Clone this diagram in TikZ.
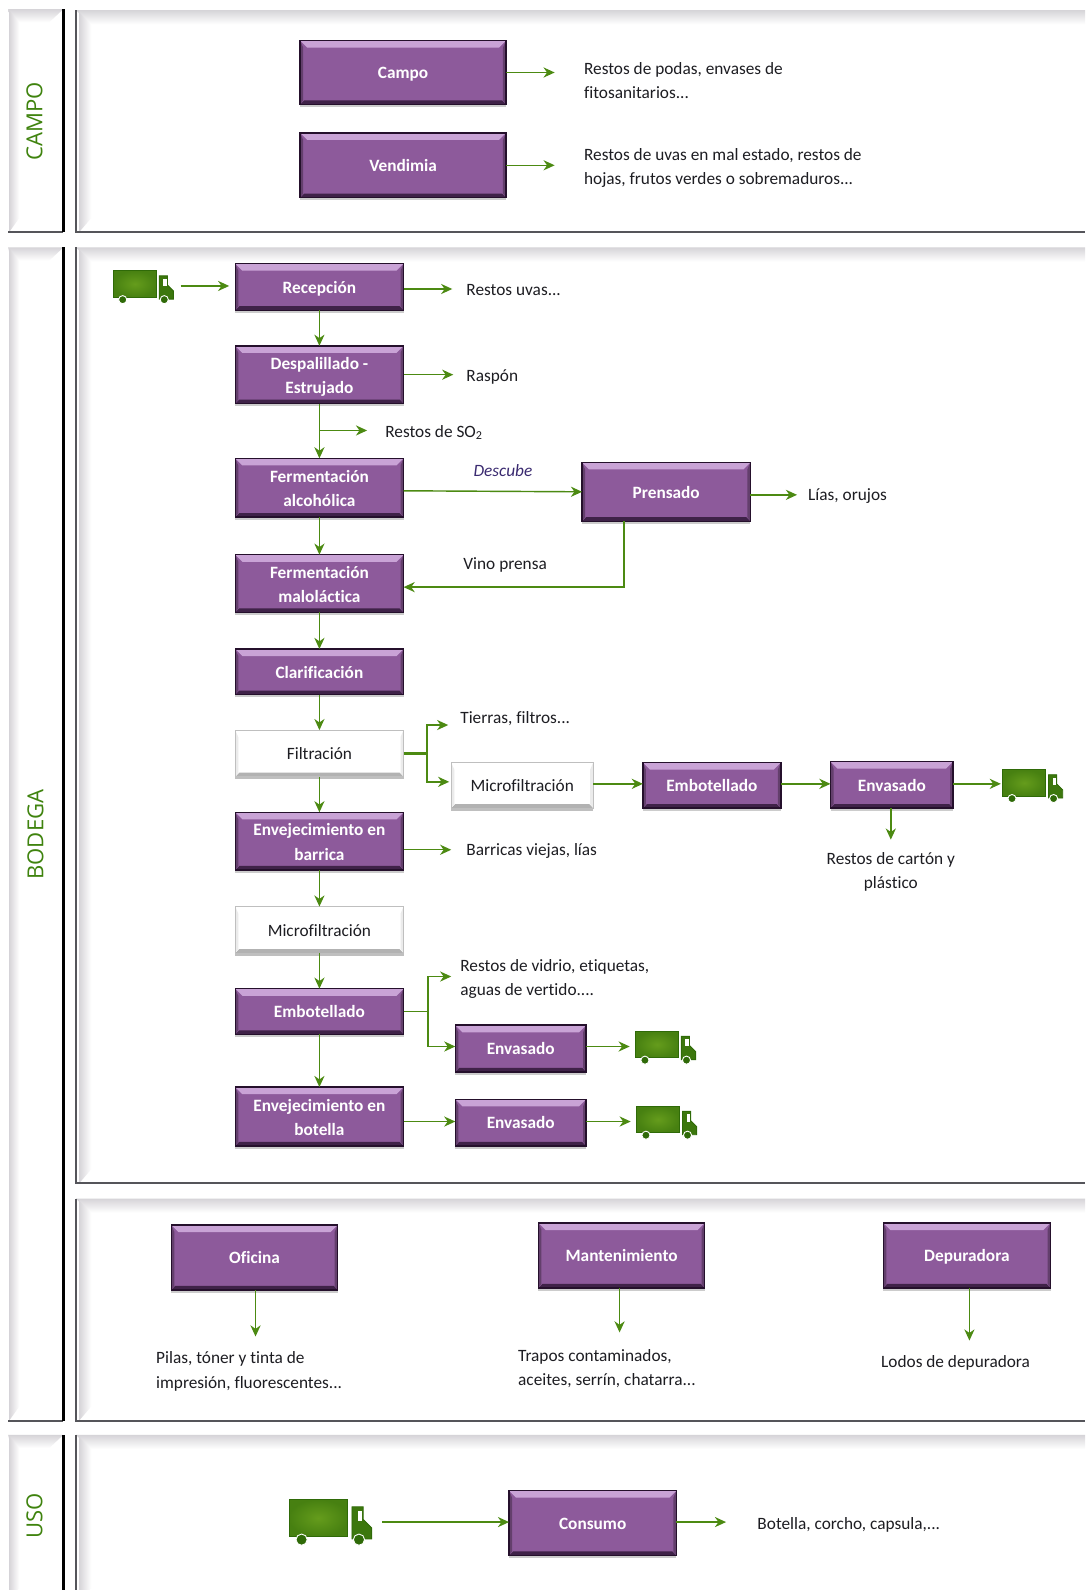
\documentclass[tikz,border=0pt]{standalone}
\usepackage{fontspec}
\setmainfont{Carlito}[Ligatures=NoCommon]
\newfontfamily\rotulofont{Open Sans}
\usetikzlibrary{arrows.meta,calc,shadows}

\definecolor{moradoC}{HTML}{8D5A9B}
\definecolor{moradoL}{HTML}{C9A3D6}
\definecolor{moradoD}{HTML}{25102C}
\definecolor{verdeF}{HTML}{4C8A12}
\definecolor{verdeR}{HTML}{4A9A10}
\definecolor{verdeT}{HTML}{659C1C}
\definecolor{verdeO}{HTML}{2F6A08}
\definecolor{bordeP}{HTML}{55555A}
\definecolor{grisP}{HTML}{D6D4D8}
\definecolor{textoN}{HTML}{1D1D22}
\definecolor{textoM}{HTML}{3A2A70}

\newcommand{\alto}{\rule{0pt}{9.6pt}}

\tikzset{
    tam/.style 2 args={minimum width=#1*0.02cm, minimum height=#2*0.02cm},
    bevel/.style n args={3}{
        path picture={
            \fill[#1] (path picture bounding box.north west) --
                (path picture bounding box.north east) --
                ($(path picture bounding box.north east)+(-0.14cm,-0.14cm)$) --
                ($(path picture bounding box.north west)+(0.14cm,-0.14cm)$) -- cycle;
            \fill[#2] (path picture bounding box.south west) --
                (path picture bounding box.south east) --
                ($(path picture bounding box.south east)+(-0.08cm,0.08cm)$) --
                ($(path picture bounding box.south west)+(0.08cm,0.08cm)$) -- cycle;
            \fill[#3] (path picture bounding box.north west) --
                ($(path picture bounding box.north west)+(0.06cm,-0.14cm)$) --
                ($(path picture bounding box.south west)+(0.06cm,0.08cm)$) --
                (path picture bounding box.south west) -- cycle;
            \fill[#3] (path picture bounding box.north east) --
                ($(path picture bounding box.north east)+(-0.06cm,-0.14cm)$) --
                ($(path picture bounding box.south east)+(-0.06cm,0.08cm)$) --
                (path picture bounding box.south east) -- cycle;
        }},
    caja/.style={rectangle, inner sep=0pt, outer sep=0pt, align=center,
        font=\fontsize{9.7}{13.6}\selectfont\bfseries,
        execute at begin node={\rule{0pt}{9pt}},
        execute at end node={\rule[-2pt]{0pt}{2pt}}},
    morada/.style={caja, draw=moradoD, line width=0.8pt, fill=moradoC, text=white,
        bevel={moradoL}{moradoD!75!moradoC}{moradoC!70!black},
        drop shadow={shadow xshift=0pt, shadow yshift=-1.5pt, opacity=.2, fill=black}},
    blanca/.style={caja, draw=black!25, line width=0.5pt, fill=white, text=textoN,
        font=\fontsize{9.7}{13.6}\selectfont,
        bevel={white}{black!30}{black!8},
        drop shadow={shadow xshift=0pt, shadow yshift=-1.5pt, opacity=.25, fill=black}},
    texto/.style={inner sep=0pt, outer sep=0pt, align=left, anchor=west, text=textoN,
        yshift=-0.03cm, font=\fontsize{9.7}{13.6}\selectfont},
    rotulo/.style={rotate=90, inner sep=0pt, text=verdeR!85!black,
        font=\fontsize{12.4}{14}\selectfont\rotulofont},
    flecha/.style={verdeF, line width=0.8pt, -{Stealth[length=2.2mm, width=2mm, inset=0.7mm]}},
    tramo/.style={verdeF, line width=0.8pt},
    pics/camion/.style={code={
        \shade[inner color=verdeT, outer color=verdeO!55!verdeT, draw=verdeO, line width=0.5pt]
            (0,0) rectangle (42,26);
        \fill[verdeO!75!verdeT, draw=verdeO, line width=0.5pt]
            (45,5) -- (53,5) -- (53,14) -- (59,20) -- (59,28) -- (45,28) -- cycle;
        \fill[white] (49,8) rectangle (52.5,15);
        \fill[verdeO, draw=white, line width=0.5pt] (9,28.5) circle (4);
        \fill[verdeO, draw=white, line width=0.5pt] (50,28.5) circle (4);
    }}
}

% marco con biselado gris
\newcommand{\marco}[4]{%
    \shade[top color=grisP, bottom color=white] (#1,#2) -- (#3,#2) -- (#3,#2+14) -- (#1+14,#2+14) -- cycle;
    \shade[left color=grisP, right color=white] (#1+3,#2+2) -- (#1+15,#2+14) -- (#1+15,#4-14) -- (#1+3,#4) -- cycle;
    \draw[bordeP, line width=1pt] (#1,#2) -- (#1,#4) -- (#3,#4);
}
\newcommand{\marcoizq}[4]{%
    \shade[top color=grisP, bottom color=white] (#1,#2) -- (#3,#2) -- (#3-14,#2+13) -- (#1+3,#2+13) -- cycle;
    \shade[left color=grisP, right color=white] (#1+1,#2+1) -- (#1+11,#2+13) -- (#1+11,#4-14) -- (#1+1,#4) -- cycle;
    \draw[bordeP, line width=1pt] (#1,#4) -- (#3,#4);
    \draw[black, line width=1.3pt] (#3,#2) -- (#3,#4);
}

\begin{document}
\begin{tikzpicture}[x=0.02cm, y=-0.02cm]

\useasboundingbox[fill=white] (0,0) rectangle (1070,1568);

%======================
% Frames
%======================

\marcoizq{8}{9}{62.5}{229}
\marcoizq{8}{244}{62.5}{1401}
\marcoizq{8}{1415}{62.5}{1580}

\marco{75}{10}{1070}{229}
\marco{75}{244}{1070}{1167}
\marco{75}{1182}{1070}{1401}
\marco{75}{1415}{1070}{1580}

\node[rotulo] (rotCampo)  at (34,120)  {CAMPO};
\node[rotulo] (rotBodega) at (35,823)  {BODEGA};
\node[rotulo] (rotUso)    at (34,1495) {USO};

%======================
% Boxes
%======================

\node[morada, tam={203}{63}] (campo)    at (397.5,71.5) {Campo};
\node[morada, tam={203}{64}] (vendimia) at (397.5,163)  {Vendimia};

\node[morada, tam={166}{46}] (recepcion)    at (315,283)   {Recepción};
\node[morada, tam={166}{57}] (despalillado) at (315,369.5) {\alto Despalillado -\\Estrujado};
\node[morada, tam={166}{58}] (alcoholica)   at (315,481)   {\alto Fermentación\\alcohólica};
\node[morada, tam={166}{58}] (prensado)     at (657,485)   {Prensado};
\node[morada, tam={166}{57}] (malolactica)  at (315,575.5) {\alto Fermentación\\maloláctica};
\node[morada, tam={166}{45}] (clarifica)    at (315,662.5) {Clarificación};
\node[blanca, tam={166}{46}] (filtracion)   at (315,743)   {Filtración};
\node[blanca, tam={140}{45}] (microA)       at (515,774.5) {Microfiltración};
\node[morada, tam={136}{45}] (embotA)       at (702,774.5) {Embotellado};
\node[morada, tam={121}{46}] (envasA)       at (879.5,774) {Envasado};
\node[morada, tam={166}{57}] (barrica)      at (315,829.5) {\alto Envejecimiento en\\barrica};
\node[blanca, tam={166}{46}] (microB)       at (315,917)   {Microfiltración};
\node[morada, tam={166}{45}] (embotB)       at (315,997.5) {Embotellado};
\node[morada, tam={129}{46}] (envasB)       at (513.5,1034) {Envasado};
\node[morada, tam={166}{58}] (botella)      at (315,1101)  {\alto Envejecimiento en\\botella};
\node[morada, tam={129}{46}] (envasC)       at (513.5,1107) {Envasado};

\node[morada, tam={164}{64}] (oficina)  at (251,1240)    {Oficina};
\node[morada, tam={164}{64}] (manten)   at (613,1238)    {Mantenimiento};
\node[morada, tam={165}{64}] (depura)   at (953.5,1238)  {Depuradora};
\node[morada, tam={165}{64}] (consumo)  at (584.5,1502)  {Consumo};

%======================
% Trucks
%======================

\pic at (112,267) {camion};
\pic at (989,759) {camion};
\pic at (627,1017) {camion};
\pic at (628,1091) {camion};
\pic[scale=1.38] at (285,1479) {camion};

%======================
% Texts
%======================

\node[texto] (txtCampo)    at (576,78)   {Restos de podas, envases de\\fitosanitarios...};
\node[texto] (txtVendimia) at (576,164.5) {Restos de uvas en mal estado, restos de\\hojas, frutos verdes o sobremaduros...};
\node[texto] (txtUvas)     at (460,285)  {Restos uvas...};
\node[texto] (txtRaspon)   at (460,370)  {Raspón};
\node[texto] (txtSO)       at (380,425)  {Restos de SO\textsubscript{2}};
\node[texto, text=textoM, font=\fontsize{9.7}{13.6}\selectfont\itshape]
             (txtDescube)  at (467,463)  {Descube};
\node[texto] (txtLias)     at (797,488)  {Lías, orujos};
\node[texto] (txtVino)     at (457,556)  {Vino prensa};
\node[texto] (txtTierras)  at (454,707)  {Tierras, filtros...};
\node[texto] (txtBarricas) at (460,838)  {Barricas viejas, lías};
\node[texto, align=center, anchor=center]
             (txtCarton)   at (878.5,858) {Restos de cartón y\\plástico};
\node[texto] (txtVidrio)   at (454,964)  {Restos de vidrio, etiquetas,\\aguas de vertido....};
\node[texto] (txtPilas)    at (154,1351) {Pilas, tóner y tinta de\\impresión, fluorescentes...};
\node[texto] (txtTrapos)   at (511,1348) {Trapos contaminados,\\aceites, serrín, chatarra...};
\node[texto] (txtLodos)    at (869,1343) {Lodos de depuradora};
\node[texto] (txtBotella)  at (747,1502) {Botella, corcho, capsula,...};

%======================
% Free ends
%======================

\coordinate (finCampo)    at (547,71.5);
\coordinate (finVendimia) at (547,163);
\coordinate (iniCamion)   at (178,282);
\coordinate (finCamion)   at (226,282);
\coordinate (finRecep)    at (446,285);
\coordinate (finDespa)    at (447,369.5);
\coordinate (cruceSO)     at (315,424.5);
\coordinate (finSO)       at (362,424.5);
\coordinate (iniPrensa)   at (398,484);
\coordinate (finPrensa)   at (786,488);
\coordinate (codoVino)    at (615.5,579);
\coordinate (cruceF)      at (421,743);
\coordinate (finTierras)  at (442,715);
\coordinate (finMicro)    at (443,771);
\coordinate (iniEmbot)    at (585,773);
\coordinate (finEnvasA)   at (987,773);
\coordinate (finCarton)   at (878.5,828);
\coordinate (finBarrica)  at (445,838);
\coordinate (cruceE)      at (422,997.5);
\coordinate (finVidrio)   at (445,963);
\coordinate (finEnvasB)   at (621,1032);
\coordinate (iniEnvasC)   at (398,1106);
\coordinate (finEnvasC)   at (622,1106);
\coordinate (finOficina)  at (252,1318);
\coordinate (finManten)   at (611,1314);
\coordinate (finDepura)   at (956,1322);
\coordinate (iniConsumo)  at (377,1501);
\coordinate (finConsumo)  at (716,1501);

%======================
% Arrows
%======================

\draw[flecha] (campo) -- (finCampo);
\draw[flecha] (vendimia) -- (finVendimia);

\draw[flecha] (iniCamion) -- (finCamion);
\draw[flecha] (recepcion.east |- finRecep) -- (finRecep);
\draw[flecha] (recepcion) -- (despalillado);
\draw[flecha] (despalillado) -- (finDespa);
\draw[flecha] (despalillado) -- (alcoholica);
\draw[flecha] (cruceSO) -- (finSO);
\draw[flecha] (iniPrensa) -- (prensado.west);
\draw[flecha] (prensado.east |- finPrensa) -- (finPrensa);
\draw[flecha] (prensado.south -| codoVino) -- (codoVino) -- (malolactica.east |- codoVino);
\draw[flecha] (alcoholica) -- (malolactica);
\draw[flecha] (malolactica) -- (clarifica);
\draw[flecha] (clarifica) -- (filtracion);
\draw[flecha] (filtracion) -- (barrica);

% Branch after the filter
\draw[tramo, line width=1.4pt] (filtracion) -- (cruceF);
\draw[flecha] (cruceF) |- (finTierras);
\draw[flecha] (cruceF) |- (finMicro);
\draw[flecha] (iniEmbot) -- (embotA.west |- iniEmbot);
\draw[flecha] (embotA.east |- iniEmbot) -- (envasA.west |- iniEmbot);
\draw[flecha] (envasA.east |- finEnvasA) -- (finEnvasA);
\draw[flecha] (envasA.south -| finCarton) -- (finCarton);

\draw[flecha] (barrica.east |- finBarrica) -- (finBarrica);
\draw[flecha] (barrica) -- (microB);
\draw[flecha] (microB) -- (embotB);

% Branch after the bottling
\draw[tramo] (embotB) -- (cruceE);
\draw[flecha] (cruceE) |- (finVidrio);
\draw[flecha] (cruceE) |- (envasB.west |- finEnvasB);
\draw[flecha] (envasB.east |- finEnvasB) -- (finEnvasB);
\draw[flecha] (embotB) -- (botella);
\draw[flecha] (iniEnvasC) -- (envasC.west |- iniEnvasC);
\draw[flecha] (envasC.east |- finEnvasC) -- (finEnvasC);

\draw[flecha] (oficina.south -| finOficina) -- (finOficina);
\draw[flecha] (manten.south -| finManten) -- (finManten);
\draw[flecha] (depura.south -| finDepura) -- (finDepura);

\draw[flecha] (iniConsumo) -- (consumo.west |- iniConsumo);
\draw[flecha] (consumo.east |- finConsumo) -- (finConsumo);

\end{tikzpicture}
\end{document}
